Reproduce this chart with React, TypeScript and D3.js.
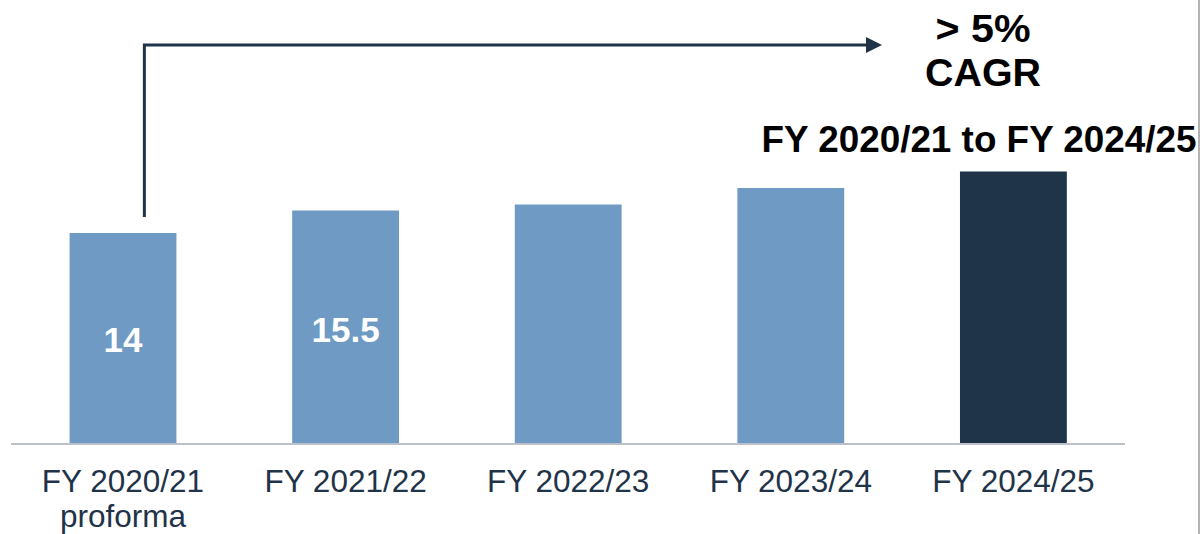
import React, { useEffect, useRef } from 'react'
import * as d3 from 'd3'

const categories = ['FY 2020/21\nproforma', 'FY 2021/22', 'FY 2022/23', 'FY 2023/24', 'FY 2024/25']
const values = [14, 15.5, 15.9, 17, 18.1]
const valueLabels = ['14', '15.5', '', '', '']
const cagrLines = ['> 5%', 'CAGR']
const cagrPeriod = 'FY 2020/21 to FY 2024/25'

const LIGHT = '#6f9ac4'
const DARK = '#1f3349'
const FONT = '"Liberation Sans", Arial, sans-serif'

const App = () => {
  const ref = useRef<SVGSVGElement>(null)

  useEffect(() => {
    draw()
  })

  const draw = () => {
    const width = 1204
    const height = 534
    const baseline = 443

    const svg = d3.select(ref.current)
    svg.selectAll('*').remove()
    svg.attr('width', width).attr('height', height)

    const x = d3
      .scaleBand()
      .domain(categories)
      .range([11.7, 1124.7])
      .paddingInner(0.52)
      .paddingOuter(0.26)

    const y = d3.scaleLinear().domain([0, 20]).range([baseline, baseline - 300])

    // bars
    svg
      .append('g')
      .selectAll('rect')
      .data(values)
      .join('rect')
      .attr('x', (d, i) => x(categories[i]) as number)
      .attr('y', (d) => y(d))
      .attr('width', x.bandwidth())
      .attr('height', (d) => y(0) - y(d))
      .attr('fill', (d, i) => (i === values.length - 1 ? DARK : LIGHT))

    // axis line
    svg
      .append('line')
      .attr('x1', 11)
      .attr('x2', 1125)
      .attr('y1', baseline + 1)
      .attr('y2', baseline + 1)
      .attr('stroke', '#bcc0c8')
      .attr('stroke-width', 2)

    // right border
    svg
      .append('line')
      .attr('x1', 1199)
      .attr('x2', 1199)
      .attr('y1', 0)
      .attr('y2', height)
      .attr('stroke', '#9a9a9a')
      .attr('stroke-width', 1.5)

    // value labels inside bars
    svg
      .append('g')
      .selectAll('text')
      .data(valueLabels)
      .join('text')
      .attr('x', (d, i) => (x(categories[i]) as number) + x.bandwidth() / 2)
      .attr('y', (d, i) => (i === 0 ? 352 : 342))
      .attr('text-anchor', 'middle')
      .attr('font-family', FONT)
      .attr('font-weight', 'bold')
      .attr('font-size', 35)
      .attr('fill', '#ffffff')
      .text((d) => d)

    // category labels
    const cat = svg
      .append('g')
      .selectAll('text')
      .data(categories)
      .join('text')
      .attr('x', (d) => (x(d) as number) + x.bandwidth() / 2)
      .attr('y', 492)
      .attr('text-anchor', 'middle')
      .attr('font-family', FONT)
      .attr('font-size', 31.5)
      .attr('fill', DARK)
    cat
      .selectAll('tspan')
      .data((d) => d.split('\n'))
      .join('tspan')
      .attr('x', function () {
        return (this.parentNode as SVGTextElement).getAttribute('x')
      })
      .attr('dy', (d, i) => (i === 0 ? 0 : 35))
      .text((d) => d)

    // CAGR arrow
    const x0 = (x(categories[0]) as number) + x.bandwidth() * 0.7
    const yTop = 45
    const xEnd = 868
    svg
      .append('path')
      .attr('d', `M${x0},${y(values[0]) - 16} V${yTop} H${xEnd}`)
      .attr('fill', 'none')
      .attr('stroke', DARK)
      .attr('stroke-width', 3)
    svg
      .append('path')
      .attr('d', `M${xEnd - 2},${yTop - 8} L${xEnd + 14},${yTop} L${xEnd - 2},${yTop + 8} Z`)
      .attr('fill', DARK)

    // CAGR text
    svg
      .append('g')
      .selectAll('text')
      .data(cagrLines)
      .join('text')
      .attr('x', 983)
      .attr('y', (d, i) => 42 + i * 44)
      .attr('text-anchor', 'middle')
      .attr('font-family', FONT)
      .attr('font-weight', 'bold')
      .attr('font-size', 39)
      .attr('textLength', (d, i) => (i === 0 ? 95 : 116))
      .attr('lengthAdjust', 'spacingAndGlyphs')
      .attr('fill', '#000')
      .text((d) => d)

    svg
      .append('text')
      .attr('x', 979)
      .attr('y', 152)
      .attr('text-anchor', 'middle')
      .attr('font-family', FONT)
      .attr('font-weight', 'bold')
      .attr('font-size', 37)
      .attr('textLength', 435)
      .attr('lengthAdjust', 'spacingAndGlyphs')
      .attr('fill', '#000')
      .text(cagrPeriod)
  }

  return (
    <svg
      ref={ref}
      style={{ position: 'absolute', left: 0, top: 0, background: '#fff' }}
    />
  )
}

export default App
